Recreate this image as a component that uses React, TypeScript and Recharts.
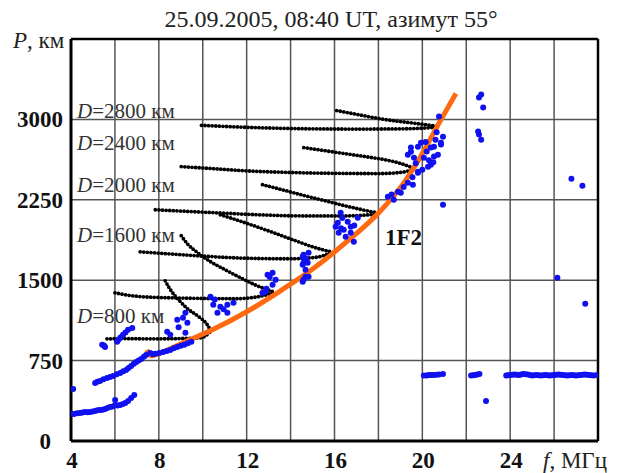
import {
  ComposedChart,
  Line,
  ReferenceLine,
  Scatter,
  XAxis,
  YAxis,
} from "recharts";

const SERIF = "Liberation Serif, Times New Roman, serif";

const xTicks = [4, 8, 12, 16, 20, 24];
const yTicks = [0, 750, 1500, 2250, 3000];
const xGrid = [6, 8, 10, 12, 14, 16, 18, 20, 22, 24, 26];
const yGrid = [750, 1500, 2250, 3000];

// black traces (modelled hops), f in MHz, P in km
const traceA = [
  { f: 16.1, P: 3082 }, { f: 17.2, P: 3040 }, { f: 18.25, P: 3000 },
  { f: 19.2, P: 2975 }, { f: 20.0, P: 2955 }, { f: 20.75, P: 2935 },
];
const traceB = [
  { f: 9.94, P: 2945 }, { f: 11.5, P: 2930 }, { f: 13, P: 2920 }, { f: 15, P: 2912 },
  { f: 17, P: 2910 }, { f: 19, P: 2912 }, { f: 20.0, P: 2918 }, { f: 20.75, P: 2930 },
];
const traceC = [
  { f: 14.6, P: 2737 }, { f: 15.5, P: 2710 }, { f: 16.5, P: 2680 }, { f: 17.5, P: 2650 },
  { f: 18.4, P: 2620 }, { f: 19.0, P: 2590 }, { f: 19.6, P: 2545 },
];
const traceD = [
  { f: 9.02, P: 2560 }, { f: 10.5, P: 2540 }, { f: 12, P: 2520 }, { f: 14, P: 2505 },
  { f: 16, P: 2497 }, { f: 18, P: 2495 }, { f: 19.0, P: 2505 }, { f: 19.6, P: 2535 },
];
const traceE = [
  { f: 12.72, P: 2391 }, { f: 13.6, P: 2345 }, { f: 14.46, P: 2298 }, { f: 15.4, P: 2250 },
  { f: 16.28, P: 2204 }, { f: 17.1, P: 2165 }, { f: 17.9, P: 2130 },
];
const traceF = [
  { f: 7.84, P: 2157 }, { f: 9, P: 2145 }, { f: 10.5, P: 2130 }, { f: 12.6, P: 2110 },
  { f: 14.5, P: 2100 }, { f: 16.5, P: 2100 }, { f: 17.9, P: 2115 },
];
const traceG = [
  { f: 10.8, P: 2110 }, { f: 11.5, P: 2065 }, { f: 12.3, P: 2010 }, { f: 13.2, P: 1945 },
  { f: 14.2, P: 1870 }, { f: 15.1, P: 1805 }, { f: 15.83, P: 1765 },
];
const traceH = [
  { f: 7.15, P: 1765 }, { f: 8.5, P: 1745 }, { f: 10, P: 1725 }, { f: 12, P: 1705 },
  { f: 14, P: 1700 }, { f: 15.2, P: 1715 }, { f: 15.83, P: 1755 },
];
const traceI = [
  { f: 9.02, P: 1915 }, { f: 9.3, P: 1840 }, { f: 9.75, P: 1760 }, { f: 10.3, P: 1680 },
  { f: 11.0, P: 1600 }, { f: 11.7, P: 1525 }, { f: 12.4, P: 1455 }, { f: 13.25, P: 1390 },
];
const traceJ = [
  { f: 6.0, P: 1382 }, { f: 7.0, P: 1350 }, { f: 8.5, P: 1336 }, { f: 10, P: 1330 },
  { f: 11.5, P: 1328 }, { f: 12.5, P: 1345 }, { f: 13.25, P: 1388 },
];
const traceK = [
  { f: 8.29, P: 1494 }, { f: 8.5, P: 1420 }, { f: 8.98, P: 1300 }, { f: 9.3, P: 1235 },
  { f: 9.75, P: 1170 }, { f: 10.21, P: 1083 }, { f: 10.35, P: 1035 },
];
const traceL = [
  { f: 5.64, P: 953 }, { f: 6.5, P: 955 }, { f: 7.6, P: 953 }, { f: 8.8, P: 955 },
  { f: 9.9, P: 962 }, { f: 10.35, P: 1020 },
];
const traces = [traceA, traceB, traceC, traceD, traceE, traceF, traceG, traceH, traceI, traceJ, traceK, traceL];

// fitted 1F2 curve
const fit1F2 = [
  { f: 7.45, P: 850 }, { f: 7.65, P: 795 }, { f: 8.3, P: 840 }, { f: 9.02, P: 908 },
  { f: 10.53, P: 1046 }, { f: 12.04, P: 1210 }, { f: 13.54, P: 1401 }, { f: 15.05, P: 1611 },
  { f: 16.56, P: 1859 }, { f: 18.06, P: 2139 }, { f: 19.07, P: 2382 }, { f: 19.84, P: 2625 },
  { f: 20.85, P: 2998 }, { f: 21.53, P: 3241 },
];

// measured echoes
const echoes = [
  { f: 4.05, P: 255 }, { f: 4.14, P: 252 }, { f: 4.28, P: 258 }, { f: 4.41, P: 262 },
  { f: 4.52, P: 265 }, { f: 4.64, P: 271 }, { f: 4.76, P: 268 }, { f: 4.87, P: 271 },
  { f: 4.98, P: 276 }, { f: 5.1, P: 280 }, { f: 5.2, P: 286 }, { f: 5.32, P: 290 },
  { f: 5.44, P: 292 }, { f: 5.55, P: 299 }, { f: 5.66, P: 308 }, { f: 5.78, P: 318 },
  { f: 5.9, P: 322 }, { f: 6.01, P: 383 }, { f: 6.01, P: 336 }, { f: 6.12, P: 330 },
  { f: 6.24, P: 336 }, { f: 6.36, P: 345 }, { f: 6.47, P: 355 }, { f: 6.6, P: 374 },
  { f: 6.74, P: 402 }, { f: 6.88, P: 430 }, { f: 4.1, P: 486 },
  { f: 5.1, P: 542 }, { f: 5.2, P: 552 }, { f: 5.32, P: 560 }, { f: 5.48, P: 575 },
  { f: 5.64, P: 588 }, { f: 5.78, P: 598 }, { f: 5.92, P: 607 }, { f: 6.08, P: 622 },
  { f: 6.24, P: 635 }, { f: 6.38, P: 650 }, { f: 6.51, P: 663 }, { f: 6.62, P: 680 },
  { f: 6.74, P: 700 }, { f: 6.86, P: 720 }, { f: 6.97, P: 738 }, { f: 7.08, P: 750 },
  { f: 7.2, P: 766 }, { f: 7.32, P: 785 }, { f: 7.42, P: 803 }, { f: 7.61, P: 822 },
  { f: 7.72, P: 810 }, { f: 7.84, P: 813 }, { f: 8.02, P: 822 }, { f: 8.2, P: 831 },
  { f: 8.36, P: 840 }, { f: 8.52, P: 850 }, { f: 8.68, P: 866 }, { f: 8.84, P: 878 },
  { f: 9.0, P: 888 }, { f: 9.16, P: 897 }, { f: 9.32, P: 912 }, { f: 9.48, P: 925 },
  { f: 5.42, P: 897 }, { f: 5.55, P: 878 }, { f: 5.5, P: 890 }, { f: 6.1, P: 925 },
  { f: 6.15, P: 943 }, { f: 6.25, P: 965 }, { f: 6.37, P: 990 }, { f: 6.48, P: 1012 },
  { f: 6.6, P: 1037 }, { f: 6.79, P: 1055 },
  { f: 8.38, P: 1018 }, { f: 8.52, P: 990 }, { f: 8.84, P: 1130 }, { f: 9.21, P: 1196 },
  { f: 9.3, P: 1102 }, { f: 9.21, P: 1009 }, { f: 9.1, P: 1150 }, { f: 8.9, P: 1060 },
  { f: 10.35, P: 1345 }, { f: 10.48, P: 1270 }, { f: 10.8, P: 1252 }, { f: 11.12, P: 1196 },
  { f: 10.67, P: 1196 }, { f: 11.12, P: 1270 }, { f: 11.4, P: 1289 }, { f: 10.55, P: 1320 },
  { f: 10.95, P: 1230 },
  { f: 12.95, P: 1550 }, { f: 13.18, P: 1569 }, { f: 13.32, P: 1504 }, { f: 13.18, P: 1457 },
  { f: 12.72, P: 1382 }, { f: 12.86, P: 1392 }, { f: 13.05, P: 1530 }, { f: 12.9, P: 1420 },
  { f: 14.59, P: 1663 }, { f: 14.68, P: 1597 }, { f: 14.68, P: 1532 }, { f: 14.55, P: 1485 },
  { f: 14.55, P: 1719 }, { f: 14.78, P: 1663 }, { f: 14.59, P: 1504 }, { f: 14.82, P: 1532 },
  { f: 14.59, P: 1737 }, { f: 14.82, P: 1756 }, { f: 14.55, P: 1644 }, { f: 14.7, P: 1700 },
  { f: 16.15, P: 2036 }, { f: 16.19, P: 1943 }, { f: 16.42, P: 1971 }, { f: 16.74, P: 1999 },
  { f: 16.88, P: 1859 }, { f: 17.06, P: 2083 }, { f: 16.28, P: 2130 }, { f: 16.6, P: 2045 },
  { f: 16.05, P: 1999 }, { f: 16.51, P: 1905 }, { f: 16.74, P: 1943 }, { f: 16.35, P: 2080 },
  { f: 16.9, P: 2010 }, { f: 16.3, P: 1985 },
  { f: 18.43, P: 2279 }, { f: 18.7, P: 2251 }, { f: 19.02, P: 2316 }, { f: 18.89, P: 2326 },
  { f: 19.34, P: 2410 }, { f: 19.8, P: 2503 }, { f: 20.26, P: 2559 }, { f: 20.53, P: 2653 },
  { f: 18.6, P: 2300 }, { f: 19.15, P: 2370 }, { f: 19.55, P: 2460 }, { f: 20.0, P: 2530 },
  { f: 20.94, P: 2204 },
  { f: 20.76, P: 3026 }, { f: 20.94, P: 2839 }, { f: 20.85, P: 2765 }, { f: 19.48, P: 2737 },
  { f: 19.8, P: 2746 }, { f: 19.62, P: 2643 }, { f: 20.07, P: 2643 }, { f: 20.39, P: 2578 },
  { f: 19.8, P: 2512 }, { f: 19.57, P: 2391 }, { f: 20.71, P: 2671 }, { f: 20.39, P: 2737 },
  { f: 19.34, P: 2671 }, { f: 20.85, P: 2783 }, { f: 19.94, P: 2783 }, { f: 20.53, P: 2746 },
  { f: 19.48, P: 2699 }, { f: 20.2, P: 2700 }, { f: 20.6, P: 2810 }, { f: 20.3, P: 2620 },
  { f: 19.7, P: 2590 }, { f: 20.15, P: 2790 }, { f: 20.65, P: 2880 }, { f: 20.5, P: 2600 },
  { f: 22.68, P: 3232 }, { f: 22.58, P: 3204 }, { f: 22.77, P: 3110 }, { f: 22.54, P: 2886 },
  { f: 22.68, P: 2811 }, { f: 22.58, P: 2858 },
  { f: 26.79, P: 2447 }, { f: 27.29, P: 2382 }, { f: 26.15, P: 1522 }, { f: 27.42, P: 1280 },
  { f: 20.07, P: 612 }, { f: 20.2, P: 612 }, { f: 20.3, P: 616 }, { f: 20.42, P: 616 },
  { f: 20.53, P: 616 }, { f: 20.65, P: 618 }, { f: 20.76, P: 620 }, { f: 20.94, P: 625 },
  { f: 22.22, P: 612 }, { f: 22.32, P: 614 }, { f: 22.4, P: 616 }, { f: 22.5, P: 620 },
  { f: 22.6, P: 625 }, { f: 22.9, P: 374 },
  { f: 23.82, P: 612 }, { f: 23.9, P: 614 }, { f: 24.0, P: 616 }, { f: 24.1, P: 618 },
  { f: 24.2, P: 620 }, { f: 24.3, P: 618 }, { f: 24.4, P: 616 }, { f: 24.5, P: 620 },
  { f: 24.6, P: 625 }, { f: 24.7, P: 622 }, { f: 24.8, P: 620 }, { f: 24.9, P: 616 },
  { f: 25.0, P: 612 }, { f: 25.1, P: 614 }, { f: 25.2, P: 616 }, { f: 25.3, P: 614 },
  { f: 25.4, P: 612 }, { f: 25.5, P: 614 }, { f: 25.6, P: 616 }, { f: 25.7, P: 614 },
  { f: 25.8, P: 612 }, { f: 25.9, P: 614 }, { f: 26.0, P: 616 }, { f: 26.1, P: 618 },
  { f: 26.2, P: 620 }, { f: 26.3, P: 618 }, { f: 26.4, P: 616 }, { f: 26.5, P: 614 },
  { f: 26.6, P: 612 }, { f: 26.7, P: 614 }, { f: 26.8, P: 616 }, { f: 26.9, P: 614 },
  { f: 27.0, P: 612 }, { f: 27.1, P: 614 }, { f: 27.2, P: 616 }, { f: 27.3, P: 618 },
  { f: 27.4, P: 620 }, { f: 27.5, P: 618 }, { f: 27.6, P: 616 }, { f: 27.7, P: 614 },
  { f: 27.8, P: 612 }, { f: 27.95, P: 616 },
];

const XTick = (props: any) => (
  <text x={props.x + 1} y={468} textAnchor="middle" fontFamily={SERIF} fontWeight="bold" fontSize={23} fill="#111">
    {props.payload.value}
  </text>
);

const YTick = (props: any) => (
  <text
    x={props.payload.value === 0 ? 51 : 63}
    y={props.y + 8}
    textAnchor="end"
    fontFamily={SERIF}
    fontWeight="bold"
    fontSize={23}
    fill="#111"
  >
    {props.payload.value}
  </text>
);

const Dot = (p: any) => <circle cx={p.cx} cy={p.cy} r={3} fill="#1010f0" />;

const annStyle = { fontFamily: SERIF, fontSize: 21, fill: "#333" };

export default function App() {
  return (
    <div style={{ position: "absolute", left: 0, top: 0, width: 627, height: 473, background: "#fff" }}>
      <ComposedChart width={627} height={473} margin={{ top: 39, right: 29, left: 0, bottom: 0 }}>
        <XAxis
          dataKey="f"
          type="number"
          domain={[4, 28]}
          ticks={xTicks}
          allowDataOverflow
          height={32}
          tickLine={false}
          axisLine={{ stroke: "#000", strokeWidth: 3 }}
          tick={<XTick />}
        />
        <YAxis
          dataKey="P"
          type="number"
          domain={[0, 3750]}
          ticks={yTicks}
          allowDataOverflow
          width={71}
          tickLine={false}
          axisLine={{ stroke: "#000", strokeWidth: 3 }}
          tick={<YTick />}
        />
        {xGrid.map((v) => (
          <ReferenceLine key={"x" + v} x={v} stroke="#555" strokeWidth={1.5} />
        ))}
        {yGrid.map((v) => (
          <ReferenceLine key={"y" + v} y={v} stroke="#555" strokeWidth={1.5} />
        ))}
        <ReferenceLine x={28} stroke="#000" strokeWidth={2.5} />
        <ReferenceLine y={3750} stroke="#000" strokeWidth={2.5} />
        {traces.map((t, i) => (
          <Line
            key={"t" + i}
            data={t}
            dataKey="P"
            type="monotone"
            stroke="#000"
            strokeWidth={3.8}
            strokeDasharray="0 3.6"
            strokeLinecap="round"
            dot={false}
            activeDot={false}
            isAnimationActive={false}
          />
        ))}
        <Scatter data={echoes} dataKey="P" shape={<Dot />} isAnimationActive={false} />
        <Line
          data={fit1F2}
          dataKey="P"
          type="monotone"
          stroke="#ff6a10"
          strokeWidth={5}
          dot={false}
          activeDot={false}
          isAnimationActive={false}
        />
      </ComposedChart>
      <svg width={627} height={473} style={{ position: "absolute", left: 0, top: 0, pointerEvents: "none" }}>
        <text x={331} y={27} textAnchor="middle" fontFamily={SERIF} fontSize={24} fill="#222">
          25.09.2005, 08:40 UT, азимут 55°
        </text>
        <text x={13} y={48} fontFamily={SERIF} fontSize={23} fill="#222">
          <tspan fontStyle="italic">P</tspan>, км
        </text>
        <text x={543} y={468} fontFamily={SERIF} fontSize={23} fill="#222">
          <tspan fontStyle="italic">f</tspan>, МГц
        </text>
        <text x={77} y={118} {...annStyle}>
          <tspan fontStyle="italic">D</tspan>=2800 км
        </text>
        <text x={77} y={150} {...annStyle}>
          <tspan fontStyle="italic">D</tspan>=2400 км
        </text>
        <text x={77} y={192} {...annStyle}>
          <tspan fontStyle="italic">D</tspan>=2000 км
        </text>
        <text x={77} y={242} {...annStyle}>
          <tspan fontStyle="italic">D</tspan>=1600 км
        </text>
        <text x={77} y={323} {...annStyle}>
          <tspan fontStyle="italic">D</tspan>=800 км
        </text>
        <text x={385} y={245} fontFamily={SERIF} fontWeight="bold" fontSize={23} fill="#111">
          1F2
        </text>
      </svg>
    </div>
  );
}
